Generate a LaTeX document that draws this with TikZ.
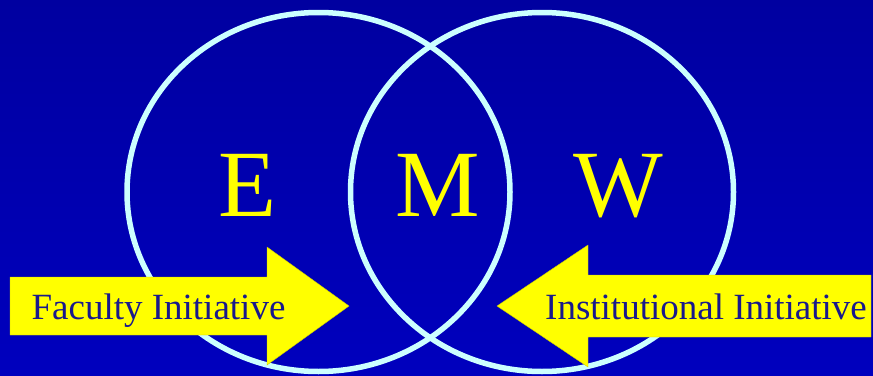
\documentclass[tikz,border=0pt]{standalone}
\usepackage{fontspec}
\setmainfont{Liberation Serif}
\usepackage{xcolor}
\usepackage{tikz}
\usetikzlibrary{shapes.geometric, positioning, calc}
\definecolor{bgtop}{RGB}{0,0,160}
\definecolor{bgmid}{RGB}{0,0,136}
\definecolor{bgbot}{RGB}{0,0,190}
\definecolor{ringcyan}{RGB}{204,255,255}
\definecolor{arrowyellow}{RGB}{255,255,0}
\definecolor{labelnavy}{RGB}{25,25,140}
\tikzset{
  ring/.style={ellipse, draw=ringcyan, line width=5.5pt,
    minimum width=383pt, minimum height=359pt, inner sep=0pt},
  letter/.style={anchor=base, text=arrowyellow, inner sep=0pt,
    font=\fontsize{95}{95}\selectfont},
  bigarrow/.style={fill=arrowyellow, draw=arrowyellow!80!black, line width=0.4pt},
  arrowlabel/.style={anchor=base, text=labelnavy, inner sep=0pt,
    font=\fontsize{37}{37}\selectfont}
}
\begin{document}
\begin{tikzpicture}[x=1pt, y=-1pt]

  % ── Background: vertical shading, dark band in the middle ────────────────
  \shade[top color=bgtop, middle color=bgmid, bottom color=bgbot]
    (0,0) rectangle (873,375);
  \useasboundingbox (0,0) rectangle (873,375);

  % ── The two sets ──────────────────────────────────────────────────────────
  \node[ring] (eset) at (318.5,192) {};
  \node[ring] (wset) at (542,192) {};

  % ── Left arrow (tip at x=349) ─────────────────────────────────────────────
  \coordinate (ftip) at (349,306);
  \draw[bigarrow] (10,277) -- (267,277) -- (267,247) -- (ftip)
    -- (267,365) -- (267,335) -- (10,335) -- cycle;

  % ── Right arrow (tip at x=497) ────────────────────────────────────────────
  \coordinate (itip) at (497,306);
  \draw[bigarrow] (871,275) -- (588,275) -- (588,245) -- (itip)
    -- (588,367) -- (588,337) -- (871,337) -- cycle;

  % ── Letters ───────────────────────────────────────────────────────────────
  \node[letter] (e) at (248,216) {E};
  \node[letter] (m) at (437.5,216) {M};
  \node[letter] (w) at (618,216) {W};

  % ── Arrow labels ──────────────────────────────────────────────────────────
  \node[arrowlabel] (faculty) at (158.5,319) {Faculty Initiative};
  \node[arrowlabel] (inst) at (706,319) {Institutional Initiative};

\end{tikzpicture}
\end{document}
